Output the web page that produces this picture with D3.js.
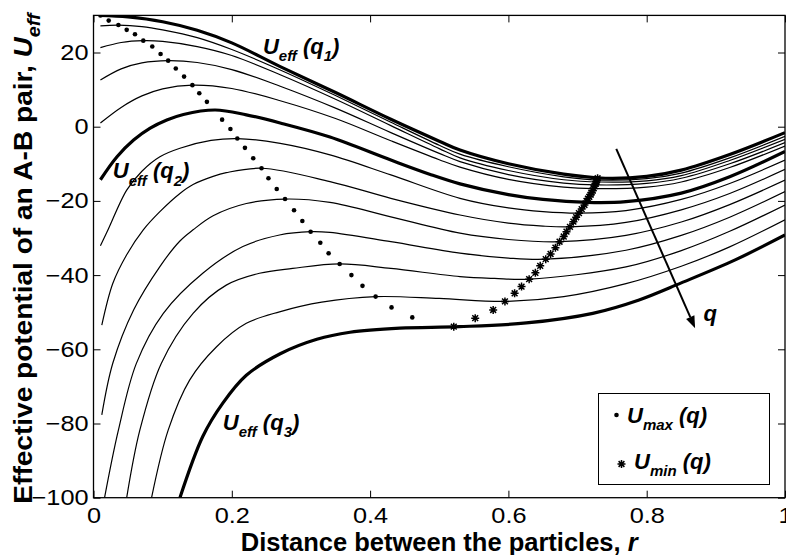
<!DOCTYPE html>
<html>
<head>
<meta charset="utf-8">
<script src="https://cdn.jsdelivr.net/npm/d3@7"></script>
<style>
  body { margin: 0; background: #fff; }
  svg { display: block; font-family: "Liberation Sans", Arial, Helvetica, sans-serif; }
</style>
</head>
<body>
<svg id="chart" width="786" height="555"></svg>
<script>
// effective potential curves, [r, U_eff] pairs
var q1Curve = [[0.01,30.0],[0.05,29.6],[0.1,28.3],[0.15,26.0],[0.2,22.6],[0.27,16.2],[0.35,9.2],[0.43,2.0],[0.5,-3.9],[0.53,-6.3],[0.6,-10.0],[0.68,-12.8],[0.74,-13.9],[0.8,-13.4],[0.85,-11.7],[0.92,-7.5],[1.0,-1.6]];
var c2Curve = [[0.01,27.2],[0.036,27.4],[0.07,27.0],[0.1,26.1],[0.15,24.0],[0.2,20.8],[0.27,15.3],[0.35,8.4],[0.43,1.2],[0.5,-5.0],[0.53,-7.4],[0.6,-10.8],[0.68,-13.5],[0.735,-14.4],[0.8,-14.0],[0.85,-12.5],[0.92,-8.4],[1.0,-2.6]];
var c3Curve = [[0.01,21.3],[0.04,22.7],[0.072,23.2],[0.1,23.0],[0.15,21.6],[0.2,19.2],[0.27,14.0],[0.35,7.4],[0.43,0.3],[0.5,-5.9],[0.53,-8.4],[0.6,-11.8],[0.68,-14.3],[0.732,-14.9],[0.8,-14.6],[0.85,-13.2],[0.92,-9.1],[1.0,-3.4]];
var c4Curve = [[0.01,12.6],[0.04,15.6],[0.07,17.2],[0.108,17.8],[0.15,17.3],[0.2,15.4],[0.27,10.9],[0.35,5.0],[0.43,-1.6],[0.5,-7.2],[0.53,-9.4],[0.6,-12.9],[0.68,-15.2],[0.727,-15.7],[0.8,-15.3],[0.85,-13.9],[0.92,-10.0],[1.0,-4.3]];
var c5Curve = [[0.01,1.0],[0.04,5.2],[0.07,8.3],[0.1,10.2],[0.143,11.2],[0.2,10.3],[0.27,7.0],[0.35,2.2],[0.43,-3.8],[0.5,-8.9],[0.53,-10.9],[0.6,-14.2],[0.68,-16.3],[0.723,-16.7],[0.8,-16.3],[0.85,-14.9],[0.92,-11.0],[1.0,-5.2]];
var q2Curve = [[0.01,-14.3],[0.034,-8.1],[0.058,-3.6],[0.082,-0.4],[0.106,1.8],[0.13,3.3],[0.176,4.5],[0.221,3.2],[0.27,1.0],[0.342,-2.8],[0.43,-9.0],[0.486,-12.8],[0.53,-15.4],[0.6,-18.3],[0.65,-19.6],[0.714,-20.4],[0.77,-20.2],[0.85,-17.9],[0.92,-13.5],[1.0,-6.7]];
var c7Curve = [[0.01,-32.1],[0.021,-27.8],[0.048,-17.1],[0.07,-12.0],[0.096,-8.1],[0.125,-5.8],[0.17,-3.7],[0.208,-3.2],[0.27,-4.5],[0.342,-7.6],[0.43,-13.0],[0.53,-19.3],[0.6,-21.9],[0.65,-22.9],[0.702,-23.3],[0.77,-22.6],[0.85,-19.6],[0.92,-15.3],[1.0,-9.0]];
var c8Curve = [[0.012,-53.5],[0.028,-42.2],[0.048,-34.5],[0.072,-27.8],[0.096,-22.9],[0.125,-18.0],[0.144,-15.6],[0.173,-13.4],[0.192,-12.4],[0.243,-11.2],[0.342,-14.8],[0.43,-19.3],[0.53,-23.8],[0.6,-26.0],[0.65,-26.8],[0.689,-27.0],[0.77,-25.8],[0.85,-22.4],[0.92,-18.0],[1.0,-11.5]];
var c9Curve = [[0.012,-77.7],[0.028,-63.7],[0.058,-49.4],[0.096,-37.7],[0.125,-30.8],[0.144,-27.8],[0.173,-24.0],[0.221,-20.7],[0.277,-19.5],[0.342,-20.4],[0.43,-24.3],[0.53,-28.7],[0.6,-30.4],[0.674,-31.0],[0.77,-29.3],[0.85,-25.7],[0.92,-21.0],[1.0,-14.4]];
var c10Curve = [[0.016,-100],[0.036,-81.8],[0.062,-63.8],[0.101,-50.3],[0.158,-39.5],[0.216,-32.3],[0.269,-29.2],[0.314,-28.3],[0.342,-28.5],[0.43,-31.0],[0.53,-34.1],[0.6,-35.4],[0.654,-35.7],[0.77,-33.3],[0.85,-29.3],[0.92,-24.4],[1.0,-17.5]];
var c11Curve = [[0.048,-100],[0.067,-81.8],[0.098,-63.8],[0.144,-50.3],[0.192,-42.7],[0.24,-39.5],[0.288,-38.2],[0.356,-37.0],[0.43,-38.2],[0.53,-40.4],[0.58,-40.9],[0.63,-41.1],[0.77,-37.8],[0.85,-33.4],[0.92,-28.2],[1.0,-21.1]];
var c12Curve = [[0.084,-100],[0.108,-81.8],[0.139,-68.3],[0.178,-59.3],[0.221,-53.0],[0.269,-49.9],[0.33,-47.3],[0.408,-45.8],[0.5,-46.3],[0.595,-47.1],[0.68,-45.8],[0.77,-42.3],[0.85,-37.6],[0.92,-32.4],[1.0,-25.1]];
var q3Curve = [[0.125,-100],[0.158,-83.5],[0.187,-74.5],[0.221,-67.0],[0.27,-61.2],[0.323,-57.3],[0.371,-55.4],[0.443,-54.3],[0.529,-53.9],[0.626,-52.9],[0.722,-50.3],[0.789,-46.7],[0.85,-42.1],[0.928,-35.9],[1.0,-29.2]];

// maxima and minima markers
var uMax = [[0.010,30.0],[0.022,28.6],[0.036,27.4],[0.048,26.1],[0.060,24.9],[0.072,23.2],[0.085,21.6],[0.097,19.6],[0.108,17.8],[0.119,15.7],[0.131,13.5],[0.143,11.2],[0.153,9.0],[0.164,6.7],[0.186,1.9],[0.198,-0.6],[0.208,-3.2],[0.219,-5.7],[0.231,-8.5],[0.243,-11.2],[0.253,-13.9],[0.265,-16.8],[0.277,-19.5],[0.290,-22.5],[0.302,-25.4],[0.314,-28.3],[0.328,-31.3],[0.340,-34.1],[0.356,-37.0],[0.373,-40.0],[0.389,-42.9],[0.408,-45.8],[0.431,-48.7],[0.461,-51.4]];
var uMin = [[0.521,-53.9],[0.552,-51.6],[0.578,-49.4],[0.595,-47.1],[0.609,-44.9],[0.619,-43.1],[0.630,-41.1],[0.639,-39.4],[0.646,-37.5],[0.654,-35.7],[0.661,-34.3],[0.668,-32.6],[0.674,-31.0],[0.680,-29.6],[0.684,-28.3],[0.689,-27.0],[0.694,-25.6],[0.698,-24.4],[0.702,-23.3],[0.706,-22.2],[0.710,-21.1],[0.713,-20.0],[0.715,-19.4],[0.717,-18.9],[0.719,-18.3],[0.720,-17.8],[0.722,-17.2],[0.723,-16.6],[0.725,-16.0],[0.726,-15.4],[0.727,-14.9],[0.728,-14.4],[0.729,-13.9]];

var xTicks = [0, 0.2, 0.4, 0.6, 0.8, 1];
var xTickLabels = ["0", "0.2", "0.4", "0.6", "0.8", "1"];
var yTicks = [-100, -80, -60, -40, -20, 0, 20];

var thinCurves = [c2Curve, c3Curve, c4Curve, c5Curve, c7Curve, c8Curve, c9Curve, c10Curve, c11Curve, c12Curve];
var thickCurves = [q1Curve, q2Curve, q3Curve];

var svg = d3.select("#chart");
var plotL = 93.5, plotR = 785, plotT = 15.4, plotB = 497.7;

var x = d3.scaleLinear().domain([0, 1]).range([plotL, plotR]);
var y = d3.scaleLinear().domain([-100, 30]).range([plotB, plotT]);

svg.append("defs").append("clipPath").attr("id", "plotClip")
  .append("rect").attr("x", plotL).attr("y", plotT)
  .attr("width", plotR - plotL).attr("height", plotB - plotT);

var line = d3.line()
  .x(function(d) { return x(d[0]); })
  .y(function(d) { return y(d[1]); })
  .curve(d3.curveCatmullRom.alpha(0.5));

var plot = svg.append("g").attr("clip-path", "url(#plotClip)");

plot.selectAll(".thin").data(thinCurves).enter().append("path")
  .attr("class", "thin")
  .attr("d", line)
  .attr("fill", "none").attr("stroke", "#000").attr("stroke-width", 1.2);

plot.selectAll(".thick").data(thickCurves).enter().append("path")
  .attr("class", "thick")
  .attr("d", line)
  .attr("fill", "none").attr("stroke", "#000").attr("stroke-width", 3.2);

// U_max dots
plot.selectAll(".umax").data(uMax).enter().append("circle")
  .attr("class", "umax")
  .attr("cx", function(d) { return x(d[0]); })
  .attr("cy", function(d) { return y(d[1]); })
  .attr("r", 2.3).attr("fill", "#000");

// U_min stars
var starPath = "M-4,0L4,0M0,-4L0,4M-2.9,-2.9L2.9,2.9M-2.9,2.9L2.9,-2.9";
plot.selectAll(".umin").data(uMin).enter().append("path")
  .attr("class", "umin")
  .attr("d", starPath)
  .attr("transform", function(d) { return "translate(" + x(d[0]) + "," + y(d[1]) + ")"; })
  .attr("stroke", "#000").attr("stroke-width", 1.5).attr("fill", "none");

// axes, ticks pointing inward
var stretch = 1.15;
function styleAxis(g) {
  g.select(".domain").remove();
  g.attr("font-family", "'Liberation Sans', Arial, sans-serif").attr("font-size", 22);
  g.selectAll(".tick line").attr("stroke", "#000").attr("stroke-width", 1);
  g.selectAll(".tick text").attr("fill", "#000").each(function() {
    var t = d3.select(this);
    var tx = +t.attr("x") || 0, ty = +t.attr("y") || 0;
    t.attr("x", null).attr("y", null)
      .attr("transform", "translate(" + tx + "," + ty + ") scale(" + stretch + ",1)");
  });
}

svg.append("g").attr("transform", "translate(0," + plotB + ")")
  .call(d3.axisBottom(x).tickValues(xTicks)
    .tickFormat(function(d, i) { return xTickLabels[i]; })
    .tickSizeInner(-7).tickSizeOuter(0).tickPadding(10))
  .call(styleAxis);

svg.append("g").attr("transform", "translate(0," + plotT + ")")
  .call(d3.axisTop(x).tickValues(xTicks).tickFormat("").tickSizeInner(-7).tickSizeOuter(0))
  .call(styleAxis);

svg.append("g").attr("transform", "translate(" + plotL + ",0)")
  .call(d3.axisLeft(y).tickValues(yTicks).tickFormat(d3.format("d"))
    .tickSizeInner(-7).tickSizeOuter(0).tickPadding(5))
  .call(styleAxis);

svg.append("g").attr("transform", "translate(" + plotR + ",0)")
  .call(d3.axisRight(y).tickValues(yTicks).tickFormat("").tickSizeInner(-7).tickSizeOuter(0))
  .call(styleAxis);

svg.append("rect")
  .attr("x", plotL).attr("y", plotT)
  .attr("width", plotR - plotL).attr("height", plotB - plotT)
  .attr("fill", "none").attr("stroke", "#000").attr("stroke-width", 1.3);

// text with subscripts: parts = [[text, isSub, isItalic], ...]
function richText(sel, parts, size) {
  var subSize = Math.round(size * 0.7), shift = size * 0.33, lvl = 0;
  parts.forEach(function(p) {
    var target = p[1] ? shift : 0;
    var ts = sel.append("tspan").text(p[0])
      .attr("dy", target - lvl)
      .style("font-size", (p[1] ? subSize : size) + "px");
    if (p[2]) ts.style("font-style", "italic");
    lvl = target;
  });
}

// axis titles
svg.append("text")
  .attr("x", (plotL + plotR) / 2).attr("y", 551)
  .attr("text-anchor", "middle")
  .style("font-weight", "bold")
  .call(richText, [["Distance between the particles, ", 0], ["r", 0, 1]], 25.5);

svg.append("text")
  .attr("transform", "translate(32," + ((plotT + plotB) / 2 + 2) + ") rotate(-90) scale(1.1,1)")
  .attr("text-anchor", "middle")
  .style("font-weight", "bold")
  .call(richText, [["Effective potential of an A-B pair, ", 0], ["U", 0, 1], ["eff", 1, 1]], 25.5);

// curve labels
function curveLabel(r, u, sub) {
  svg.append("text")
    .attr("x", x(r)).attr("y", y(u))
    .style("font-weight", "bold").style("font-style", "italic")
    .call(richText, [["U", 0], ["eff", 1], [" (q", 0], [sub, 1], [")", 0]], 22);
}
curveLabel(0.245, 19.6, "1");
curveLabel(0.028, -13.9, "2");
curveLabel(0.187, -81.8, "3");

// arrow showing increasing q
var a0 = [x(0.756), y(-6.0)], a1 = [x(0.870), y(-54.3)];
var dx = a1[0] - a0[0], dy = a1[1] - a0[1], len = Math.sqrt(dx * dx + dy * dy);
var ux = dx / len, uy = dy / len, headLen = 12, headW = 4.5;
var bx = a1[0] - ux * headLen, by = a1[1] - uy * headLen;
svg.append("line")
  .attr("x1", a0[0]).attr("y1", a0[1]).attr("x2", bx).attr("y2", by)
  .attr("stroke", "#000").attr("stroke-width", 2);
svg.append("path")
  .attr("d", "M" + a1[0] + "," + a1[1] +
    "L" + (bx - uy * headW) + "," + (by + ux * headW) +
    "L" + (bx + uy * headW) + "," + (by - ux * headW) + "Z")
  .attr("fill", "#000");
svg.append("text")
  .attr("x", x(0.882)).attr("y", y(-52.3))
  .style("font-weight", "bold").style("font-style", "italic").style("font-size", "22px")
  .text("q");

// legend
var lg = svg.append("g");
lg.append("rect")
  .attr("x", 598.5).attr("y", 393.5).attr("width", 171).attr("height", 91)
  .attr("fill", "#fff").attr("stroke", "#000").attr("stroke-width", 1);
lg.append("circle").attr("cx", 616.5).attr("cy", 415).attr("r", 2.3).attr("fill", "#000");
lg.append("text").attr("x", 627).attr("y", 423)
  .style("font-weight", "bold").style("font-style", "italic")
  .call(richText, [["U", 0], ["max", 1], [" (q)", 0]], 22);
lg.append("path").attr("d", starPath)
  .attr("transform", "translate(621.5,464)")
  .attr("stroke", "#000").attr("stroke-width", 1.5).attr("fill", "none");
lg.append("text").attr("x", 634).attr("y", 469)
  .style("font-weight", "bold").style("font-style", "italic")
  .call(richText, [["U", 0], ["min", 1], [" (q)", 0]], 22);
</script>
</body>
</html>
